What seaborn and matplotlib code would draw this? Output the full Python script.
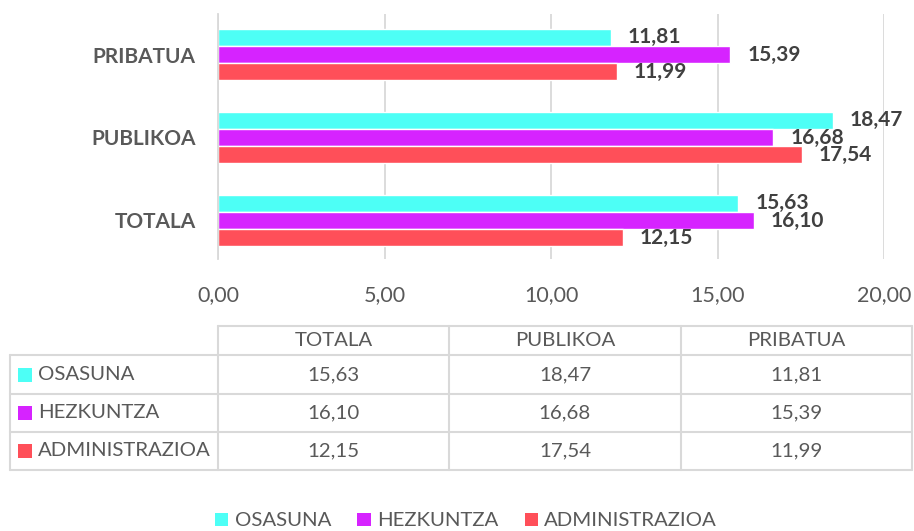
import pandas as pd
import matplotlib.pyplot as plt
import seaborn as sns
from matplotlib.lines import Line2D
from matplotlib.ticker import FuncFormatter

# Data
categories = ['PRIBATUA', 'PUBLIKOA', 'TOTALA']
table_columns = ['TOTALA', 'PUBLIKOA', 'PRIBATUA']
series = ['OSASUNA', 'HEZKUNTZA', 'ADMINISTRAZIOA']
osasuna = {'TOTALA': 15.63, 'PUBLIKOA': 18.47, 'PRIBATUA': 11.81}
hezkuntza = {'TOTALA': 16.10, 'PUBLIKOA': 16.68, 'PRIBATUA': 15.39}
administrazioa = {'TOTALA': 12.15, 'PUBLIKOA': 17.54, 'PRIBATUA': 11.99}
colors = ['#4DFFF6', '#D623FF', '#FF4F59']

values = {'OSASUNA': osasuna, 'HEZKUNTZA': hezkuntza, 'ADMINISTRAZIOA': administrazioa}
rows = []
for s in series:
    for c in categories:
        rows.append({'Sektorea': c, 'Saila': s, 'Balioa': values[s][c]})
df = pd.DataFrame(rows)

def comma(v, pos=None):
    return f"{v:.2f}".replace('.', ',')

sns.set_style('white')
plt.rcParams['font.family'] = ['Lato', 'DejaVu Sans']

W, H = 914, 531
fig = plt.figure(figsize=(W / 100, H / 100), dpi=100)

# Bar chart area (pixel layout)
left, right, top, bottom = 218, 884, 14, 259
ax = fig.add_axes([left / W, 1 - bottom / H, (right - left) / W, (bottom - top) / H])

sns.barplot(data=df, x='Balioa', y='Sektorea', hue='Saila', order=categories,
            hue_order=series, palette=colors, orient='h', width=0.62,
            saturation=1, ax=ax, legend=False)

ax.set_xlim(0, 20)
ax.set_ylim(2.464, -0.488)
ax.set_xticks([0, 5, 10, 15, 20])
ax.xaxis.set_major_formatter(FuncFormatter(comma))
ax.grid(axis='x', color='#D9D9D9', linewidth=1.3)
ax.set_axisbelow(True)
for sp in ['top', 'right', 'bottom']:
    ax.spines[sp].set_visible(False)
ax.spines['left'].set_color('#D9D9D9')
ax.spines['left'].set_linewidth(1.3)
ax.tick_params(axis='x', length=0, pad=19, labelsize=15.5, labelcolor='#595959')
ax.tick_params(axis='y', length=0, pad=16, labelsize=15, labelcolor='#595959')
for lbl in ax.get_yticklabels():
    lbl.set_fontweight('bold')
ax.set_xlabel('')
ax.set_ylabel('')

for cont, s in zip(ax.containers, series):
    ax.bar_label(cont, labels=[comma(values[s][c]) for c in categories], padding=12,
                 fontsize=15, fontweight='bold', color='#404040')

# Data table drawn in pixel coordinates
ov = fig.add_axes([0, 0, 1, 1], zorder=-1)
ov.set_xlim(0, W)
ov.set_ylim(H, 0)
ov.axis('off')

grid_c = '#D9D9D9'
lw = 1.5
col_x = [218, 449, 681, 912]
row_y = [326, 355, 394, 432, 470]
tab_left = 10

# horizontal lines
ov.add_line(Line2D([col_x[0], col_x[-1]], [row_y[0]] * 2, color=grid_c, lw=lw))
for yy in row_y[1:]:
    ov.add_line(Line2D([tab_left, col_x[-1]], [yy] * 2, color=grid_c, lw=lw))
# vertical lines
for xx in col_x:
    ov.add_line(Line2D([xx, xx], [row_y[0], row_y[-1]], color=grid_c, lw=lw))
ov.add_line(Line2D([tab_left, tab_left], [row_y[1], row_y[-1]], color=grid_c, lw=lw))

txt_c = '#595959'
fs = 14.7
for j, c in enumerate(table_columns):
    ov.text((col_x[j] + col_x[j + 1]) / 2, (row_y[0] + row_y[1]) / 2, c,
            ha='center', va='center', fontsize=fs, color=txt_c)
for i, s in enumerate(series):
    yc = (row_y[i + 1] + row_y[i + 2]) / 2
    ov.add_patch(plt.Rectangle((18, yc - 7), 14, 14, color=colors[i], lw=0))
    ov.text(38, yc, s, ha='left', va='center', fontsize=fs, color=txt_c)
    for j, c in enumerate(table_columns):
        ov.text((col_x[j] + col_x[j + 1]) / 2, yc, comma(values[s][c]),
                ha='center', va='center', fontsize=fs, color=txt_c)

# Legend
handles = [plt.Rectangle((0, 0), 1, 1, color=col, lw=0) for col in colors]
leg = fig.legend(handles, series, loc='center', bbox_to_anchor=(466 / W, 1 - 521 / H),
                 ncol=3, frameon=False, fontsize=fs, handlelength=0.65, handleheight=0.65,
                 handletextpad=0.3, columnspacing=1.3)
for t in leg.get_texts():
    t.set_color(txt_c)

fig.savefig('out.png', dpi=100)
